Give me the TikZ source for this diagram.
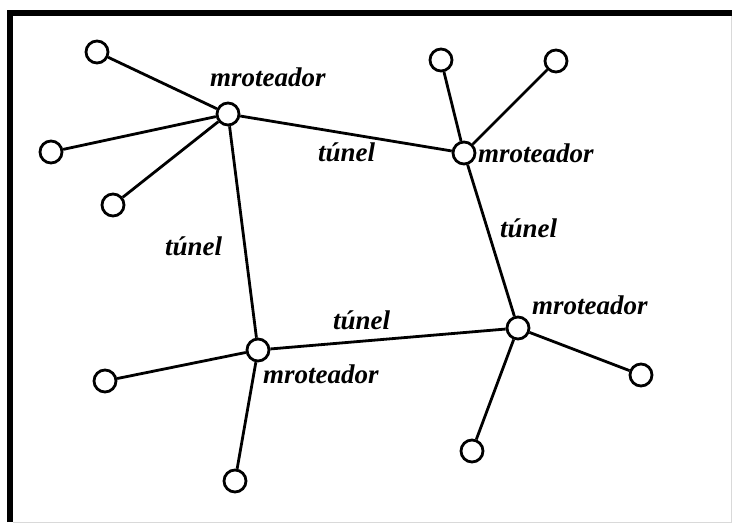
\documentclass[tikz,border=0pt]{standalone}
\usepackage{fontspec}
\setmainfont{Liberation Serif}
\begin{document}
\begin{tikzpicture}[x=1pt,y=-1pt,
  host/.style={circle,draw,line width=2.8pt,fill=white,minimum size=22pt,inner sep=0pt},
  link/.style={line width=2.8pt},
  lbl/.style={anchor=base west,inner sep=0pt,font=\fontsize{27}{32}\selectfont\bfseries\itshape}]
\useasboundingbox (0,0) rectangle (732,524);
% frame
\draw[line width=6pt] (10,522) -- (10,13) -- (732,13);
\draw[black!15,line width=1pt] (731,16) -- (731,522) -- (13,522);
% routers
\node[host] (ra) at (228,114) {};
\node[host] (rb) at (464,153) {};
\node[host] (rc) at (258,350) {};
\node[host] (rd) at (518,328) {};
% hosts
\node[host] (a1) at (97,52) {};
\node[host] (a2) at (51,152) {};
\node[host] (a3) at (113,205) {};
\node[host] (b1) at (441,60) {};
\node[host] (b2) at (556,61) {};
\node[host] (c1) at (105,381) {};
\node[host] (c2) at (235,481) {};
\node[host] (d1) at (641,375) {};
\node[host] (d2) at (472,451) {};
% connectors
\foreach \u/\v in {ra/rb,ra/rc,rb/rd,rc/rd,ra/a1,ra/a2,ra/a3,rb/b1,rb/b2,rc/c1,rc/c2,rd/d1,rd/d2}
  \draw[link] (\u) -- (\v);
% labels
\node[lbl] (la) at (210,87) {mroteador};
\node[lbl] (lb) at (478,163) {mroteador};
\node[lbl] (lc) at (263,383) {mroteador};
\node[lbl] (ld) at (532,315) {mroteador};
\node[lbl] (tab) at (318,162) {túnel};
\node[lbl] (tac) at (165,255) {túnel};
\node[lbl] (tbd) at (500,238) {túnel};
\node[lbl] (tcd) at (333,330) {túnel};
\end{tikzpicture}
\end{document}
